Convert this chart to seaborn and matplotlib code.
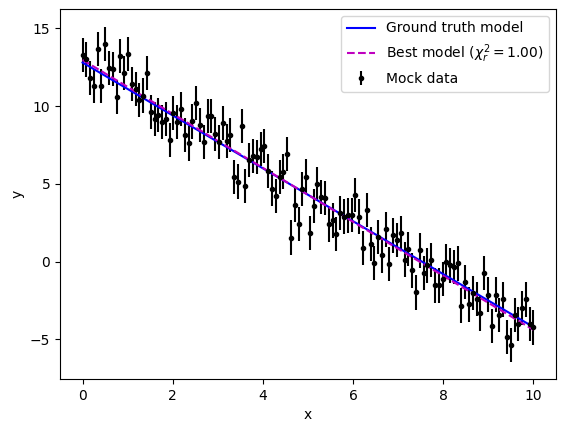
import numpy as np
import matplotlib
matplotlib.use("Agg")
import matplotlib.pyplot as plt
import seaborn as sns

# mock data (120 evenly spaced x values)
x_obs = [
    0.000, 0.084, 0.168, 0.252, 0.336, 0.420, 0.504, 0.588, 0.672, 0.756,
    0.840, 0.924, 1.008, 1.092, 1.176, 1.261, 1.345, 1.429, 1.513, 1.597,
    1.681, 1.765, 1.849, 1.933, 2.017, 2.101, 2.185, 2.269, 2.353, 2.437,
    2.521, 2.605, 2.689, 2.773, 2.857, 2.941, 3.025, 3.109, 3.193, 3.277,
    3.361, 3.445, 3.529, 3.613, 3.697, 3.782, 3.866, 3.950, 4.034, 4.118,
    4.202, 4.286, 4.370, 4.454, 4.538, 4.622, 4.706, 4.790, 4.874, 4.958,
    5.042, 5.126, 5.210, 5.294, 5.378, 5.462, 5.546, 5.630, 5.714, 5.798,
    5.882, 5.966, 6.050, 6.134, 6.218, 6.303, 6.387, 6.471, 6.555, 6.639,
    6.723, 6.807, 6.891, 6.975, 7.059, 7.143, 7.227, 7.311, 7.395, 7.479,
    7.563, 7.647, 7.731, 7.815, 7.899, 7.983, 8.067, 8.151, 8.235, 8.319,
    8.403, 8.487, 8.571, 8.655, 8.739, 8.824, 8.908, 8.992, 9.076, 9.160,
    9.244, 9.328, 9.412, 9.496, 9.580, 9.664, 9.748, 9.832, 9.916, 10.000,
]
y_obs = [
    13.27, 13.00, 11.79, 11.30, 13.65, 11.30, 13.97, 12.43, 12.37, 10.60,
    13.20, 12.13, 13.33, 11.41, 11.09, 10.40, 10.68, 12.13, 9.63, 9.17,
    9.44, 8.99, 9.17, 7.84, 9.55, 8.99, 9.81, 8.16, 7.60, 9.01,
    10.19, 8.80, 7.67, 9.38, 9.38, 8.22, 7.67, 8.91, 7.75, 8.15,
    5.46, 5.15, 8.73, 4.87, 6.54, 6.81, 6.71, 7.24, 7.43, 5.84,
    4.70, 4.24, 5.45, 5.79, 6.93, 1.55, 3.65, 2.44, 4.68, 5.47,
    1.86, 3.59, 5.00, 4.14, 4.10, 2.39, 2.65, 1.79, 3.12, 2.90,
    2.97, 3.01, 4.29, 2.90, 0.90, 3.33, 1.15, -0.06, 1.58, 0.40,
    2.07, -0.13, 1.69, 1.37, 1.86, 0.14, 0.82, -0.56, -1.98, 0.72,
    -0.71, -0.24, 0.13, -1.53, -1.53, -1.13, 0.01, -0.24, -0.35, -0.11,
    -2.82, -1.33, -2.75, -1.99, -2.42, -3.33, -0.71, -2.11, -4.15, -2.11,
    -3.44, -2.43, -4.83, -5.37, -3.44, -4.02, -3.00, -2.43, -3.99, -4.23,
]
y_err = 1.1

# straight line models (slope, intercept)
truth_slope, truth_intercept = -1.70, 12.80
best_slope, best_intercept = -1.735, 12.97
best_chi2r = 1.00

x_line = np.array([x_obs[0], x_obs[-1]])

fig = plt.figure(figsize=(5.65, 4.32), dpi=100)
ax = fig.add_axes([60 / 565, 53 / 432, 496 / 565, 370 / 432])

ax.errorbar(x_obs, y_obs, yerr=y_err, fmt='.k', label='Mock data')
sns.lineplot(x=x_line, y=truth_slope * x_line + truth_intercept, color='b',
             label='Ground truth model', ax=ax)
sns.lineplot(x=x_line, y=best_slope * x_line + best_intercept, color='m',
             linestyle='--',
             label=r'Best model ($\chi_r^2 = %.2f$)' % best_chi2r, ax=ax)

ax.set_xlim(-0.5, 10.5)
ax.set_ylim(-7.54, 16.24)
ax.set_xlabel('x')
ax.set_ylabel('y')
ax.legend(loc='upper right')

fig.savefig('out.png', dpi=100)
